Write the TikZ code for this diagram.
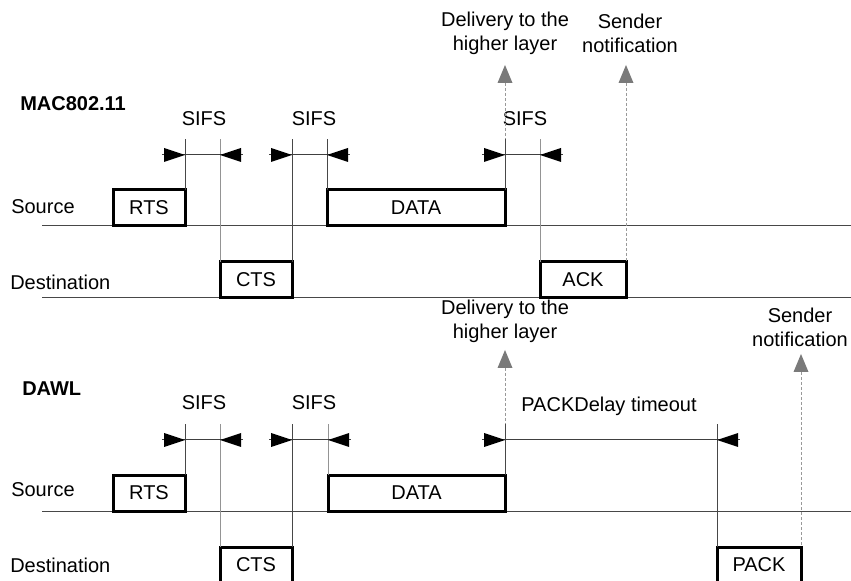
\documentclass[tikz,border=0pt]{standalone}
\usepackage{fontspec}
\setmainfont{Liberation Sans}

% span marker: horizontal line with two filled triangles pointing inwards
% #1 = y, #2 = left limit x, #3 = right limit x
\newcommand\spanmark[3]{%
  \draw[dimline] (#2-23,#1) -- (#3+23,#1);
  \fill (#2,#1) -- (#2-21,#1-7) -- (#2-21,#1+7) -- cycle;
  \fill (#3,#1) -- (#3+21,#1-7) -- (#3+21,#1+7) -- cycle;
}
% grey upward notification arrow
% #1 = x, #2 = tip y, #3 = lower end y of the dashed stem
\newcommand\notifmark[3]{%
  \fill[notiftip] (#1,#2) -- (#1-7.5,#2+18) -- (#1+7.5,#2+18) -- cycle;
  \draw[notif] (#1,#2+18) -- (#1,#3);
}

\begin{document}
\begin{tikzpicture}[x=0.75pt,y=-0.75pt,
  lbl/.style={font=\fontsize{15}{18}\selectfont, inner sep=0pt},
  twoline/.style={lbl, align=center},
  ttl/.style={font=\bfseries\fontsize{15}{18}\selectfont, inner sep=0pt, anchor=west},
  pkt/.style={draw=black, line width=2.25pt, fill=white, outer sep=0pt,
    inner sep=0pt, anchor=south west, minimum height=36*0.75pt,
    font=\fontsize{15}{18}\selectfont},
  axis/.style={draw=black!72, line width=0.75pt},
  vdark/.style={draw=black!72, line width=0.75pt},
  vlight/.style={draw=black!42, line width=0.75pt},
  dimline/.style={draw=black!75, line width=0.75pt},
  notif/.style={draw=black!40, line width=0.75pt, dash pattern=on 2.25pt off 1.5pt},
  notiftip/.style={fill=black!52}
]
\useasboundingbox (0,0) rectangle (851,581);

% ---------------- MAC 802.11 ----------------
\node[ttl] (mac) at (20,104) {MAC802.11};
\node[lbl, anchor=west] (src1) at (11,207) {Source};
\node[lbl, anchor=west] (dst1) at (10,282) {Destination};
\draw[axis] (42,226) -- (851,226);
\draw[axis] (42,298) -- (851,298);

\node[pkt, minimum width=72*0.75pt]  (rts1)  at (113,226) {RTS};
\node[pkt, minimum width=72*0.75pt]  (cts1)  at (220,298) {CTS};
\node[pkt, minimum width=178*0.75pt] (data1) at (327,226) {DATA};
\node[pkt, minimum width=86*0.75pt]  (ack1)  at (540,298) {ACK};

\draw[vdark]  (rts1.north east)  -- ++(0,-51);
\draw[vlight] (cts1.north west)  -- ++(0,-123);
\draw[vdark]  (cts1.north east)  -- ++(0,-123);
\draw[vdark]  (data1.north west) -- ++(0,-51);
\draw[vdark]  (data1.north east) -- ++(0,-51);
\draw[vlight] (ack1.north west)  -- ++(0,-123);

\spanmark{155}{185}{220}
\spanmark{155}{292}{327}
\spanmark{155}{505}{540}

\node[lbl] (sifs1) at (204,119) {SIFS};
\node[lbl] (sifs2) at (314,119) {SIFS};
\node[lbl] (sifs3) at (525,119) {SIFS};

\notifmark{505}{65}{139}
\notifmark{626}{65}{262}
\node[twoline] (deliv1) at (505,33) {Delivery to the\\higher layer};
\node[twoline] (send1) at (630,33) {Sender\\notification};

% ---------------- DAWL ----------------
\node[ttl] (dawl) at (22,389) {DAWL};
\node[lbl, anchor=west] (src2) at (11,490) {Source};
\node[lbl, anchor=west] (dst2) at (10,565) {Destination};
\draw[axis] (42,511) -- (851,511);
\draw[axis] (42,583) -- (851,583);

\node[pkt, minimum width=72*0.75pt]  (rts2)  at (113,511) {RTS};
\node[pkt, minimum width=72*0.75pt]  (cts2)  at (220,583) {CTS};
\node[pkt, minimum width=177*0.75pt] (data2) at (328,511) {DATA};
\node[pkt, minimum width=84*0.75pt]  (pack2) at (717,583) {PACK};

\draw[vdark]  (rts2.north east)  -- ++(0,-51);
\draw[vlight] (cts2.north west)  -- ++(0,-123);
\draw[vdark]  (cts2.north east)  -- ++(0,-123);
\draw[vlight] (data2.north west) -- ++(0,-51);
\draw[vdark]  (data2.north east) -- ++(0,-51);
\draw[vdark]  (pack2.north west) -- ++(0,-123);

\spanmark{440}{185}{220}
\spanmark{440}{292}{328}
\spanmark{440}{505}{717}

\node[lbl] (sifs4) at (204,403) {SIFS};
\node[lbl] (sifs5) at (314,403) {SIFS};
\node[lbl] (pdto) at (609,406) {PACKDelay timeout};

\notifmark{505}{350}{424}
\notifmark{801}{354}{547}
\node[twoline] (deliv2) at (505,321) {Delivery to the\\higher layer};
\node[twoline] (send2) at (800,327) {Sender\\notification};
\end{tikzpicture}
\end{document}
